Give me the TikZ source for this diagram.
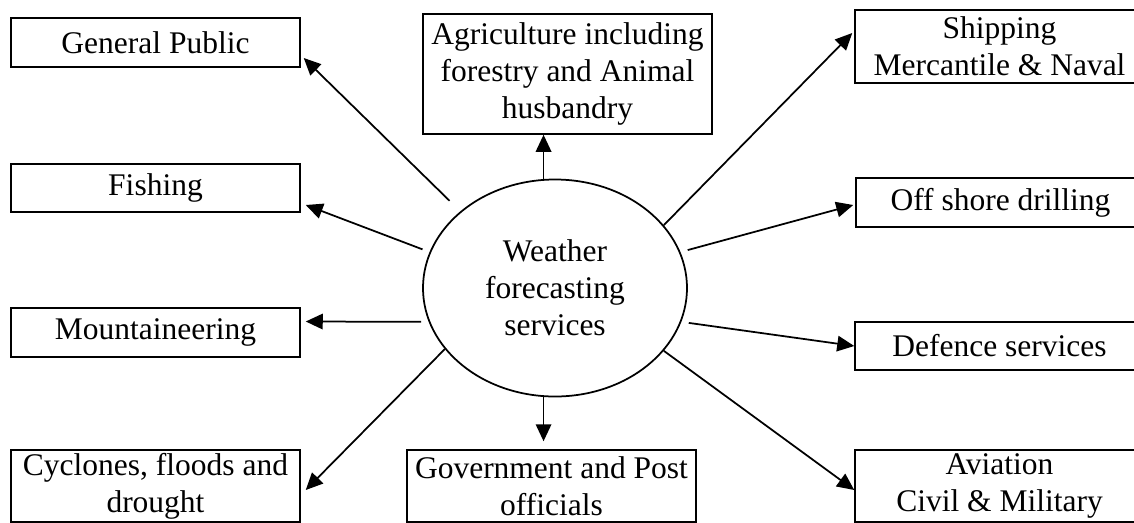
\documentclass[tikz,border=0pt]{standalone}
\usepackage{fontspec}
\setmainfont{Liberation Serif}
\usepackage{tikz}
\usetikzlibrary{shapes,arrows.meta}
\tikzset{box/.style={rectangle,draw,line width=0.6pt,minimum width=115.6pt,inner sep=0pt,align=center,font=\fontsize{12.6}{14.8}\selectfont}}
\tikzset{hub/.style={ellipse,draw,line width=0.7pt,minimum width=105.6pt,minimum height=86.8pt,inner sep=0pt,align=center,font=\fontsize{12.6}{14.8}\selectfont}}

\begin{document}
\begin{tikzpicture}[x=0.4pt,y=-0.4pt,>={Triangle[length=6.8pt,width=6.2pt]},line width=0.7pt]
    \useasboundingbox (0,0) rectangle (1134,522);
    \clip (0,0) rectangle (1134,522);
    \node[hub] (weather)at (555,288) {Weather\\forecasting\\services};

    \node[box,minimum height=19.6pt] (pub)at (155.5,42.5) {General Public};
    \node[box,minimum height=19.2pt] (fish)at (155.5,188) {Fishing};
    \node[box,minimum height=19.6pt] (mount)at (155.5,332.5) {Mountaineering};
    \node[box,minimum height=28.8pt] (cycl)at (155.5,486) {Cyclones, floods and\\drought};
    \node[box,minimum height=48pt] (agri)at (567.5,74) {Agriculture including\\forestry and Animal\\husbandry};
    \node[box,minimum height=28.8pt] (gov)at (551.5,486) {Government and Post\\officials};
    \node[box,minimum height=29.2pt] (ship)at (999.5,46.5) {Shipping\\Mercantile \& Naval};
    \node[box,minimum height=19.6pt] (off)at (1000.5,202.5) {Off shore drilling};
    \node[box,minimum height=19.2pt] (def)at (999.5,346) {Defence services};
    \node[box,minimum height=28.8pt] (avia)at (999.5,486) {Aviation\\Civil \& Military};

    \draw [->,shorten <=6pt] (weather.141) to [] ([xshift=1.2pt,yshift=-6.2pt]pub.east);
    \draw [->,shorten <=3pt] (weather.164) to [] ([xshift=2pt,yshift=-6.8pt]fish.east);
    \draw [->,shorten <=3pt] (weather.195) to [] ([xshift=2pt,yshift=4.4pt]mount.east);
    \draw [->] (weather.209) to [] ([xshift=2pt,yshift=-1.6pt]cycl.east);
    \draw [->,shorten >=3.2pt] (weather.264) to [] (weather.264 |- gov.north);
    \draw [->] (weather.96) to [] (weather.96 |- agri.south);
    \draw [->] (weather.30) to [] ([xshift=-0.8pt,yshift=5.4pt]ship.west);
    \draw [->,shorten <=3pt] (weather.16) to [] ([xshift=-0.8pt,yshift=-1pt]off.west);
    \draw [->,shorten <=3pt] (weather.345) to [] (def.west);
    \draw [->] (weather.330) to [] ([yshift=-1.6pt]avia.west);
\end{tikzpicture}
\end{document}
